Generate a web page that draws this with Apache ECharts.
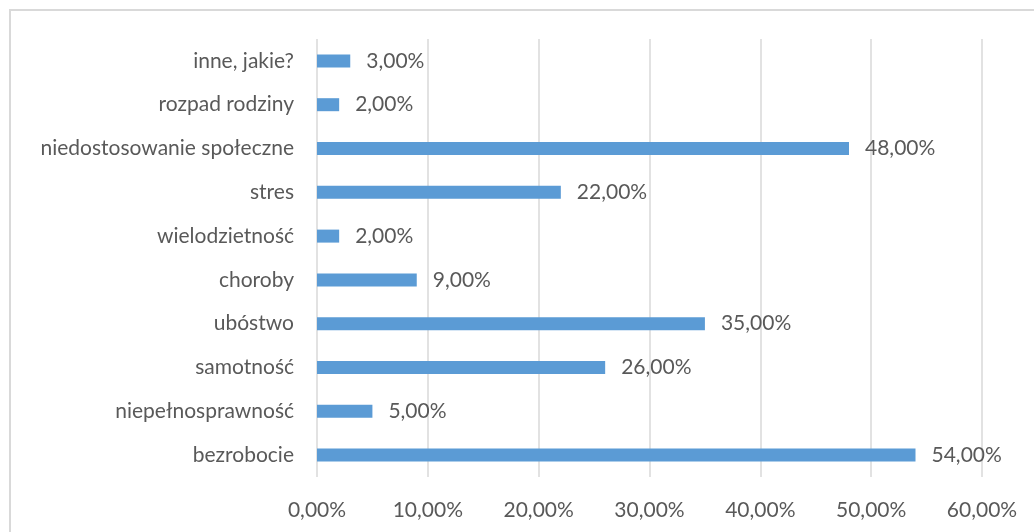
<!DOCTYPE html>
<html>
<head>
<meta charset="utf-8">
<script src="https://cdn.jsdelivr.net/npm/echarts@6/dist/echarts.min.js"></script>
<style>
  html, body { margin: 0; padding: 0; background: #ffffff; }
  #frame { position: absolute; left: 9px; top: 9px; width: 1040px; height: 540px; border: 2px solid #d9d9d9; box-sizing: border-box; }
  #chart { position: absolute; left: 0; top: 0; width: 1034px; height: 532px; }
</style>
</head>
<body>
<div id="frame"></div>
<div id="chart"></div>
<script>
// Categories listed bottom to top (category axis starts at the bottom)
const categories = [
  'bezrobocie',
  'niepełnosprawność',
  'samotność',
  'ubóstwo',
  'choroby',
  'wielodzietność',
  'stres',
  'niedostosowanie społeczne',
  'rozpad rodziny',
  'inne, jakie?'
];
// Share of answers, in percent
const values = [54, 5, 26, 35, 9, 2, 22, 48, 2, 3];
const axisMax = 60;
const axisStep = 10;

const fmt = v => v.toFixed(2).replace('.', ',') + '%';

const chart = echarts.init(document.getElementById('chart'), null, { renderer: 'canvas' });
const textStyle = { fontFamily: 'Lato', fontSize: 21, color: '#595959' };

chart.setOption({
  animation: false,
  backgroundColor: 'transparent',
  grid: { left: 317, right: 52, top: 39, bottom: 55, containLabel: false },
  xAxis: {
    type: 'value',
    min: 0,
    max: axisMax,
    interval: axisStep,
    axisLine: { show: false },
    axisTick: { show: false },
    splitLine: { show: true, lineStyle: { color: '#d9d9d9', width: 1.5 } },
    axisLabel: Object.assign({ margin: 23, formatter: v => fmt(v) }, textStyle)
  },
  yAxis: {
    type: 'category',
    data: categories,
    axisLine: { show: false },
    axisTick: { show: false },
    splitLine: { show: false },
    axisLabel: Object.assign({ margin: 23 }, textStyle)
  },
  series: [{
    type: 'bar',
    data: values,
    barWidth: 13,
    itemStyle: { color: '#5b9bd5' },
    label: Object.assign({
      show: true,
      position: 'right',
      distance: 16,
      formatter: p => fmt(p.value)
    }, textStyle)
  }]
});
</script>
</body>
</html>
